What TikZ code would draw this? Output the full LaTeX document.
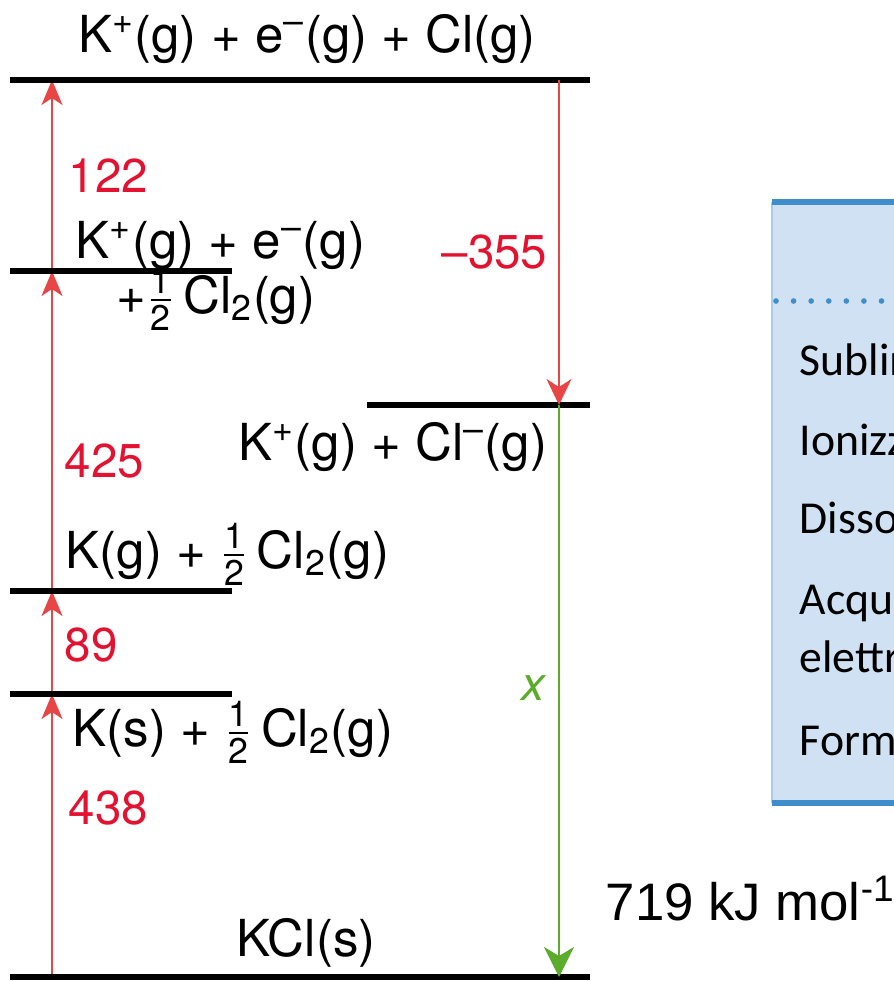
\documentclass[tikz,border=0pt]{standalone}
\usepackage{amsmath}
\usepackage{fontspec}
\setmainfont{TeX Gyre Heros}
\newfontfamily\boxfont{Carlito}
\newfontfamily\arialfont{Liberation Sans}
\usetikzlibrary{arrows.meta}

\definecolor{arrred}{RGB}{232,70,70}
\definecolor{numred}{RGB}{226,18,48}
\definecolor{arrgreen}{RGB}{92,172,44}
\definecolor{boxfill}{RGB}{207,225,242}
\definecolor{boxblue}{RGB}{64,141,204}

\newcommand{\half}{$\frac{\text{1}}{\text{2}}$}

\begin{document}
\begin{tikzpicture}[x=0.01cm,y=-0.01cm,
    level/.style={line width=1.7pt},
    upred/.style={draw=arrred,line width=0.6pt,-{Stealth[length=0.25cm,width=0.21cm,inset=0.07cm]}},
    downred/.style={draw=arrred,line width=0.6pt,-{Stealth[length=0.26cm,width=0.25cm,inset=0.08cm]}},
    downgreen/.style={draw=arrgreen,line width=0.8pt,-{Stealth[length=0.3cm,width=0.3cm,inset=0.09cm]}},
    lbl/.style={font=\fontsize{14.5}{16}\selectfont,inner sep=0pt},
    num/.style={font=\fontsize{13.5}{15}\selectfont,text=numred,inner sep=0pt},
    boxtxt/.style={font=\boxfont\fontsize{13}{14}\selectfont,anchor=base west,inner sep=0pt}]
\clip (0,0) rectangle (894,981);

% left red path, levels drawn over it
\coordinate (k0) at (52,977);
\coordinate (k1) at (52,694);
\coordinate (k2) at (52,591);
\coordinate (k3) at (52,271);
\coordinate (k4) at (52,80);
\draw[upred] (k0) -- (k1);
\draw[upred] (k1) -- (k2);
\draw[upred] (k2) -- (k3);
\draw[upred] (k3) -- (k4);

% energy levels
\draw[level] (10,80) -- (590,80);
\draw[level] (10,271) -- (232,271);
\draw[level] (367,405) -- (590,405);
\draw[level] (10,591) -- (232,591);
\draw[level] (10,694) -- (232,694);
\draw[level] (10,977) -- (590,977);

% right side
\coordinate (r0) at (559,80);
\coordinate (r1) at (559,405);
\coordinate (r2) at (559,977);
\draw[downred] (r0) -- (r1);
\draw[downgreen] (r1) -- (r2);

% labels
\node[lbl,anchor=base] (top) at (307,52) {K\textsuperscript{+}(g) + e\textsuperscript{–}(g) + Cl(g)};
\node[lbl,anchor=base west] (ion) at (75,258) {K\textsuperscript{+}(g) + e\textsuperscript{–}(g)};
\node[lbl,anchor=base west] (ionb) at (116,313) {+\half\,Cl\textsubscript{2}(g)};
\node[lbl,anchor=base east] (ions) at (548,460) {K\textsuperscript{+}(g) + Cl\textsuperscript{–}(g)};
\node[lbl,anchor=base west] (gas) at (65,568) {K(g) + \half\,Cl\textsubscript{2}(g)};
\node[lbl,anchor=base west] (solid) at (72,746) {K(s) + \half\,Cl\textsubscript{2}(g)};
\node[lbl,anchor=base] (kcl) at (306,956) {KCl(s)};

\node[num,anchor=base west] (n122) at (68,192) {122};
\node[num,anchor=base east] (n355) at (548,268) {–355};
\node[num,anchor=base west] (n425) at (64,477) {425};
\node[num,anchor=base west] (n89) at (64,661) {89};
\node[num,anchor=base west] (n438) at (68,824) {438};
\node[num,text=arrgreen,anchor=base,font=\fontsize{13.5}{15}\selectfont\itshape] (x) at (533,700) {x};

\node[anchor=base west,inner sep=0pt,font=\arialfont\fontsize{15}{17}\selectfont] (val) at (605,920) {719 kJ mol\textsuperscript{-1}};

% side table
\fill[boxfill] (772,202) rectangle (894,803);
\draw[boxblue!45,line width=0.5pt] (772,202) -- (772,803);
\draw[boxblue,line width=1.7pt] (772,202) -- (894,202);
\draw[boxblue,line width=1.7pt] (772,803) -- (894,803);
\draw[boxblue,line width=1.6pt,line cap=round,dash pattern=on 0pt off 5pt] (776,301) -- (894,301);
\node[boxtxt] (t1) at (799,375) {Sublim};
\node[boxtxt] (t2) at (799,455) {Ionizz};
\node[boxtxt] (t3) at (799,533) {Disso};
\node[boxtxt] (t4) at (799,614) {Acqui};
\node[boxtxt] (t5) at (799,672) {elettr};
\node[boxtxt] (t6) at (799,755) {Forma};
\end{tikzpicture}
\end{document}
